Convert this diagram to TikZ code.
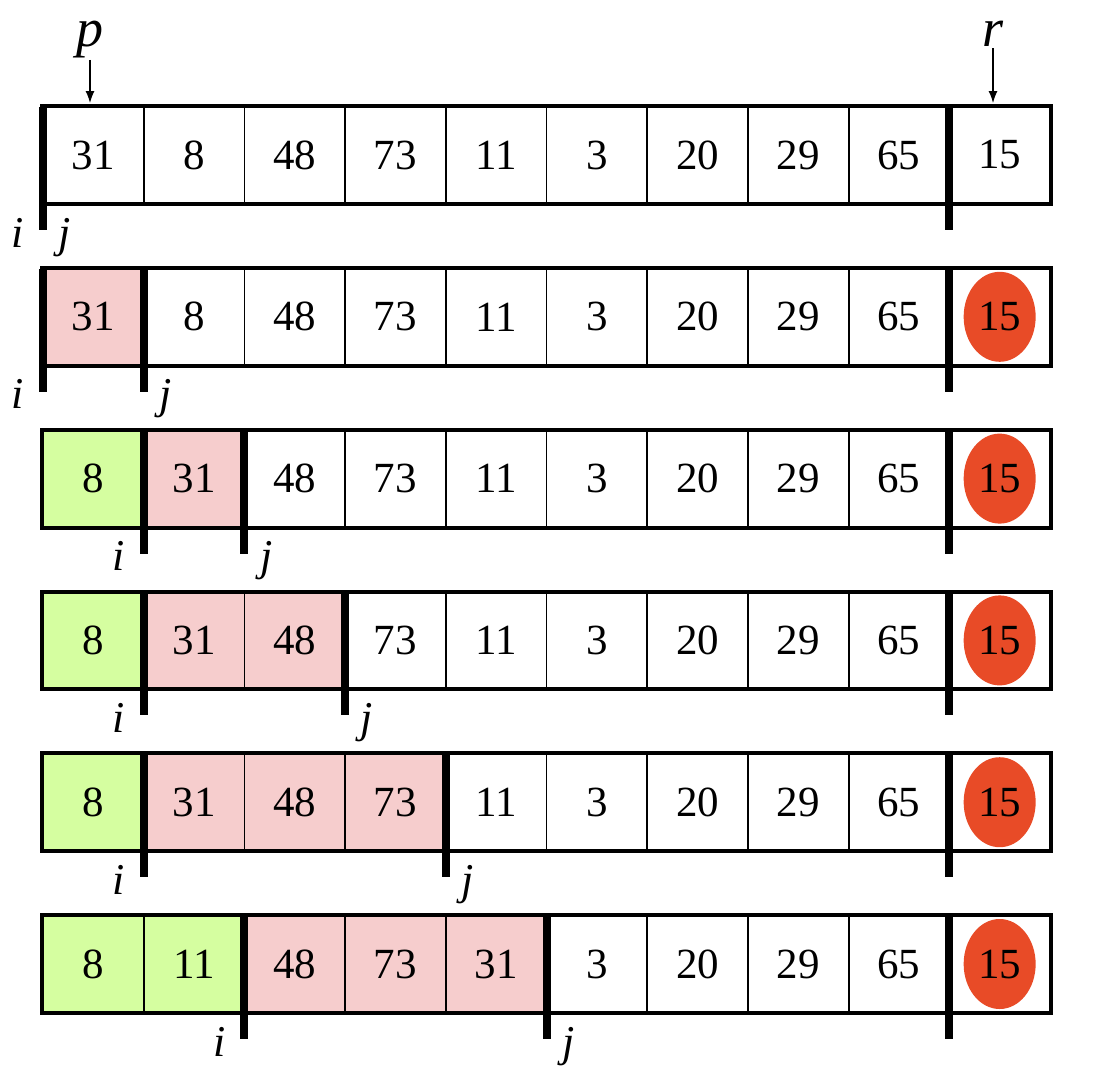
\documentclass[tikz,border=0pt]{standalone}
\usepackage{fontspec}
\setmainfont{Liberation Serif}
\usetikzlibrary{shapes.geometric,arrows.meta,positioning}
\definecolor{pinkcell}{HTML}{F6CDCD}
\definecolor{greencell}{HTML}{D5FEA0}
\definecolor{pivotred}{HTML}{E84B27}

\begin{document}
\begin{tikzpicture}[x=0.5pt,y=-0.5pt,
  font=\fontsize{21.5}{24}\selectfont,
  cell/.style={draw,line width=0.9pt,minimum width=50.35pt,minimum height=48pt,inner sep=0pt},
  pivot/.style={ellipse,fill=pivotred,inner sep=0pt,minimum width=36pt,minimum height=45pt},
  frame/.style={line width=2pt},
  bar/.style={line width=4pt},
  idx/.style={font=\fontsize{22}{24}\selectfont\itshape,anchor=base,inner sep=0pt},
  ptrName/.style={font=\fontsize{27}{30}\selectfont\itshape,anchor=base,inner sep=1pt},
  ptr/.style={-{Latex[length=6pt,width=4.5pt]},line width=0.75pt,shorten >=1.5pt}]

  \useasboundingbox (0,0) rectangle (1102,1082);

  % one row per step of the partition
  \foreach \r/\vals/\ng/\np/\bi/\bj in {
    1/{31,8,48,73,11,3,20,29,65,15}/0/0/0/0,
    2/{31,8,48,73,11,3,20,29,65,15}/0/1/0/1,
    3/{8,31,48,73,11,3,20,29,65,15}/1/1/1/2,
    4/{8,31,48,73,11,3,20,29,65,15}/1/2/1/3,
    5/{8,31,48,73,11,3,20,29,65,15}/1/3/1/4,
    6/{8,11,48,73,31,3,20,29,65,15}/2/3/2/5}{
    \pgfmathsetmacro\top{107+161.8*(\r-1)}
    \pgfmathsetmacro\mid{\top+48}
    \pgfmathtruncatemacro\npl{\ng+\np}
    % pivot mark
    \ifnum\r>1 \node[pivot] (pv\r) at ({93.35+100.7*9},\mid) {}; \fi
    % cells
    \foreach \v [count=\k from 0] in \vals {
      \ifnum\k<\ng \def\cellfill{greencell}\else\ifnum\k<\npl \def\cellfill{pinkcell}\else\def\cellfill{none}\fi\fi
      \node[cell,fill=\cellfill] (c\r-\k) at ({93.35+100.7*\k},\mid) {\v};
    }
    \draw[frame] (c\r-0.north west) rectangle (c\r-9.south east);
    % i, j and pivot bars
    \coordinate (it\r) at ({43+100.7*\bi},\top);
    \coordinate (ib\r) at ({43+100.7*\bi},{\top+123});
    \coordinate (jt\r) at ({43+100.7*\bj},\top);
    \coordinate (jb\r) at ({43+100.7*\bj},{\top+123});
    \coordinate (rt\r) at ({43+100.7*9},\top);
    \coordinate (rb\r) at ({43+100.7*9},{\top+123});
    \draw[bar] (it\r) -- (ib\r);
    \draw[bar] (jt\r) -- (jb\r);
    \draw[bar] (rt\r) -- (rb\r);
    \node[idx] (li\r) at ([xshift=-12.5pt,yshift=-8.5pt]ib\r) {i};
    \node[idx] (lj\r) at ([xshift=11pt,yshift=-8.5pt]jb\r) {j};
  }

  % p and r
  \node[ptrName] (p) at (90,46) {p};
  \node[ptrName] (r) at (993,46) {r};
  \draw[ptr] (p.south) -- (c1-0.north -| p);
  \draw[ptr] (r.south) -- (c1-9.north -| r);

\end{tikzpicture}
\end{document}
